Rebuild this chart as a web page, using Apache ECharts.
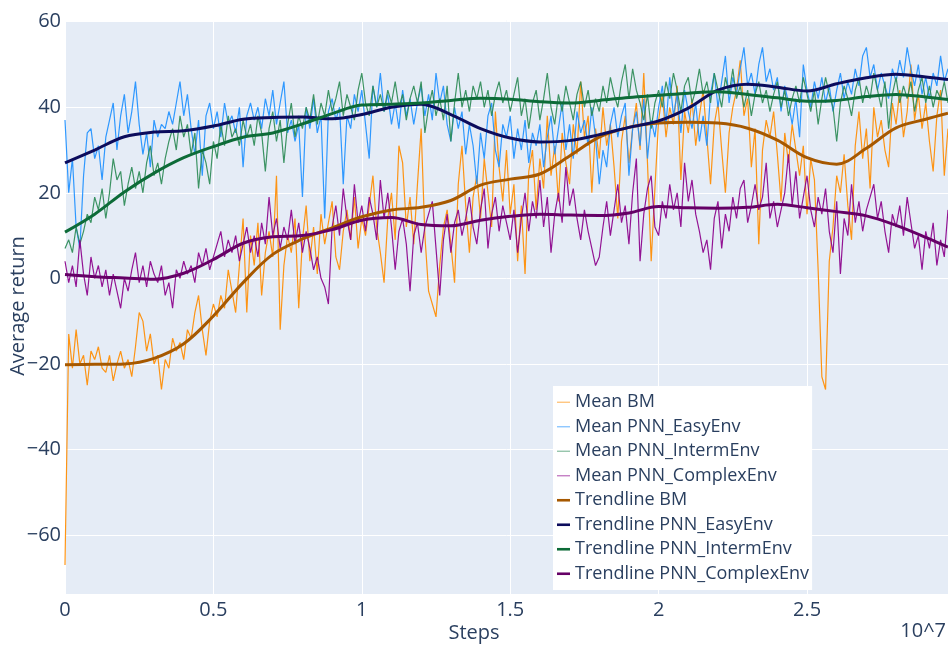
<!DOCTYPE html>
<html>
<head>
<meta charset="utf-8">
<title>Average return vs steps</title>
<script src="https://cdn.jsdelivr.net/npm/echarts@6/dist/echarts.min.js"></script>
<style>
  html, body { margin: 0; padding: 0; background: #ffffff; }
  #chart { width: 948px; height: 645px; }
</style>
</head>
<body>
<div id="chart"></div>
<script>
// Steps between logged evaluations of the mean curves
const STEP = 125000;

// Mean return per evaluation, one value every STEP environment steps
const meanBM = [
  -67, -13, -21, -12, -20, -18, -25, -17, -19, -16, -21,
  -22, -18, -24, -20, -17, -21, -19, -23, -16, -8,
  -10, -17, -13, -20, -18, -26, -19, -21, -14, -17,
  -15, -19, -12, -14, -8, -4, -12, -18, -10, -6,
  -9, -4, -7, 2, -3, -8, 3, 14, -8, 10,
  3, 13, -4, 6, 11, 5, 24, -12, 3, 10,
  6, 14, -7, 9, 17, 4, 12, 1, 15, 8,
  13, 18, 5, 2, 11, 16, 9, 19, 7, 14,
  10, 17, 24, 12, 6, -1, 14, 20, 9, 31,
  27, 12, 19, 8, 22, 35, 10, -3, -6, -9,
  3, 12, 16, 8, -1, 22, 31, 17, 6, 19,
  24, 14, 28, 20, 12, 39, 26, 18, 30, 15,
  22, 4, 17, 1, 25, 30, 16, 28, 21, 38,
  24, 31, 18, 34, 27, 22, 36, 29, 46, 33,
  38, 20, 35, 28, 40, 31, 36, 26, 14, 32,
  38, 27, 35, 41, 30, 48, 27, 4, 21, 37,
  43, 33, 40, 36, 45, 23, 39, 34, 42, 31,
  38, 44, 33, 22, 36, 41, 30, 20, 34, 40,
  44, 51, 38, 42, 26, 35, 8, 30, 37, 33,
  39, 29, 18, 34, 27, 36, 30, 24, 31, 15,
  28, 23, 2, -23, -26, 4, 12, 24, 20, 29,
  17, 9, 31, 39, 28, 35, 21, 40, 33, 37,
  30, 26, 41, 36, 44, 33, 39, 50, 37, 43,
  35, 41, 32, 25, 38, 44, 24, 35
];

const meanEasy = [
  37, 20, 28, 12, 7, 24, 34, 35, 28, 31, 23,
  33, 37, 41, 30, 38, 43, 34, 39, 46, 36,
  29, 34, 26, 37, 33, 36, 35, 39, 36, 41,
  46, 38, 43, 35, 29, 37, 24, 38, 41, 35,
  39, 33, 41, 36, 38, 34, 40, 26, 38, 41,
  37, 40, 35, 42, 38, 44, 36, 41, 46, 34,
  37, 32, 36, 19, 40, 35, 42, 34, 38, 14,
  39, 42, 37, 40, 22, 38, 35, 43, 39, 44,
  36, 28, 45, 40, 48, 39, 43, 36, 41, 35,
  44, 38, 42, 36, 41, 45, 38, 43, 37, 48,
  41, 45, 36, 32, 40, 35, 39, 29, 36, 31,
  22, 34, 28, 38, 41, 30, 26, 36, 33, 38,
  28, 35, 30, 37, 27, 34, 31, 36, 26, 33,
  38, 29, 35, 41, 30, 36, 28, 39, 34, 37,
  31, 40, 33, 22, 30, 26, 36, 40, 33, 38,
  41, 24, 35, 39, 31, 42, 28, 37, 33, 40,
  45, 36, 47, 38, 43, 34, 44, 39, 35, 41,
  32, 38, 31, 43, 48, 40, 46, 52, 41, 47,
  43, 49, 54, 45, 48, 43, 50, 54, 46, 49,
  44, 47, 39, 45, 41, 36, 42, 33, 50, 44,
  40, 46, 42, 47, 41, 45, 39, 44, 48, 42,
  46, 43, 49, 45, 52, 54, 47, 50, 44, 48,
  45, 42, 49, 46, 51, 47, 54, 49, 45, 50,
  43, 47, 42, 48, 45, 52, 46, 49
];

const meanInterm = [
  7, 9, 6, 12, 8, 11, 15, 13, 19, 16, 21,
  14, 20, 28, 23, 25, 17, 22, 26, 21, 25,
  20, 27, 31, 24, 27, 22, 28, 32, 35, 30,
  38, 33, 36, 29, 34, 21, 30, 27, 22, 32,
  28, 36, 31, 38, 33, 35, 31, 37, 33, 36,
  31, 38, 34, 25, 35, 39, 32, 37, 27, 36,
  41, 33, 38, 35, 40, 37, 43, 36, 41, 38,
  44, 39, 42, 46, 38, 43, 40, 37, 44, 48,
  41, 38, 45, 40, 43, 39, 44, 41, 46, 40,
  43, 37, 42, 45, 41, 46, 34, 40, 44, 38,
  42, 37, 45, 32, 41, 48, 40, 44, 39, 45,
  42, 46, 40, 44, 38, 43, 46, 41, 44, 39,
  43, 47, 38, 42, 35, 41, 44, 37, 42, 48,
  40, 36, 43, 39, 45, 41, 37, 43, 46, 40,
  44, 38, 42, 39, 45, 41, 47, 43, 40, 46,
  50, 42, 49, 44, 41, 37, 43, 35, 41, 44,
  40, 46, 42, 48, 44, 39, 45, 47, 41, 44,
  49, 43, 46, 41, 48, 44, 40, 47, 43, 49,
  42, 45, 40, 44, 38, 43, 46, 41, 44, 39,
  43, 46, 40, 44, 38, 42, 45, 41, 47, 43,
  39, 44, 36, 42, 47, 43, 40, 32, 41, 45,
  42, 38, 44, 47, 41, 45, 42, 48, 44, 40,
  46, 35, 43, 47, 41, 45, 42, 46, 39, 44,
  47, 41, 45, 40, 44, 42, 46, 41
];

const meanComplex = [
  4, -1, 3, -2, 9, 1, -4, 5, 0, 3, -2,
  2, -4, 1, -3, -7, 0, -3, 2, 6, -1,
  3, -2, 4, 1, -1, 3, -4, -1, -7, 2,
  0, 4, 1, 3, -1, 6, 3, 7, 2, 5,
  8, 11, 5, 9, 6, 10, 4, 8, 12, 6,
  10, 5, 13, 8, 19, 10, 14, 7, 12, 9,
  16, 8, 13, 6, 11, 7, 2, 5, 0, -2,
  -6, 12, 17, 10, 21, 14, 9, 22, 13, 17,
  11, 19, 15, 9, 23, 14, 20, 12, 2, 11,
  14, 8, -3, 10, 13, 6, 12, 15, 18, 7,
  -4, 9, 15, 6, 13, 16, 10, 14, 19, 12,
  8, 16, 21, 7, 15, 19, 11, 17, 13, 9,
  16, 6, 14, 20, 11, 18, 14, 23, 12, 19,
  6, 15, 20, 13, 26, 17, 21, 14, 9, 16,
  11, 7, 3, 5, 12, 18, 10, 16, 22, 13,
  17, 8, 20, 28, 4, 15, 21, 24, 12, 10,
  18, 14, 22, 16, 20, 12, 27, 18, 23, 15,
  11, 6, 9, 2, 14, 18, 7, 15, 11, 19,
  14, 21, 23, 13, 17, 22, 16, 19, 27, 14,
  18, 12, 16, 20, 29, 17, 25, 14, 19, 24,
  16, 12, 19, 15, 21, 11, 6, 18, 1, 14,
  10, 22, 13, 18, 11, 16, 19, 22, 14, 18,
  11, 6, 15, 12, 17, 10, 19, 13, 7, 10,
  2, 11, 7, 13, 3, 9, 5, 16
];

// Smoothed trend of each run, sampled along the step axis
const trendSteps = [
  0, 1e6, 2e6, 3e6, 4e6, 5e6, 6e6, 7e6, 8e6, 9e6,
  10e6, 11e6, 12e6, 13e6, 14e6, 15e6, 16e6, 17e6, 18e6, 19e6,
  20e6, 21e6, 22e6, 23e6, 24e6, 25e6, 26e6, 27e6, 28e6, 29e6, 29.75e6
];
const trendBM = [
  -20.2, -20.1, -20.0, -18.7, -15.3, -8.8, -1.0, 5.6, 9.2, 11.8,
  14.4, 16.0, 16.6, 18.2, 21.8, 23.2, 24.4, 28.6, 33.0, 35.3,
  36.3, 36.5, 36.3, 35.1, 32.3, 28.2, 26.7, 30.4, 35.2, 37.2, 38.6
];
const trendEasy = [
  27.0, 30.0, 33.1, 34.2, 34.5, 35.6, 37.2, 37.6, 37.7, 37.3,
  38.3, 40.0, 40.7, 38.3, 35.0, 32.8, 31.9, 32.2, 33.6, 35.3,
  36.8, 39.8, 44.0, 45.4, 44.7, 43.8, 45.5, 46.9, 47.7, 47.1, 46.5
];
const trendInterm = [
  10.8, 15.0, 20.2, 24.6, 28.2, 30.8, 33.0, 34.0, 36.1, 38.5,
  40.5, 40.7, 41.0, 41.6, 42.1, 41.9, 41.3, 41.0, 41.6, 42.3,
  42.8, 43.3, 43.6, 43.0, 42.2, 41.4, 41.6, 42.5, 43.0, 42.4, 41.8
];
const trendComplex = [
  0.9, 0.4, 0.1, -0.2, 1.2, 4.4, 8.2, 9.7, 10.0, 11.4,
  13.6, 14.2, 12.6, 12.3, 13.6, 14.5, 15.0, 14.8, 14.7, 15.3,
  16.8, 16.5, 16.4, 16.6, 17.3, 16.5, 15.6, 14.6, 12.4, 9.6, 7.3
];

const yTicks = [-60, -40, -20, 0, 20, 40, 60];

const TEXT = '#2a3f5f';
const FONT = '"Open Sans", "Noto Sans", sans-serif';

// Legend keys: a short thin stroke for the raw means, a thick one for the trends
const THIN_KEY = 'path://M0,0 H16 V1.6 H0 Z';
const THICK_KEY = 'path://M0,0 H16 V3.2 H0 Z';

function pairsEvery(values) {
  return values.map((v, i) => [i * STEP, v]);
}
function pairsAt(xs, values) {
  return values.map((v, i) => [xs[i], v]);
}
function fmtNum(v) {
  const s = String(+v.toFixed(2));
  return s.replace('-', '\u2212');
}

function meanSeries(name, color, values) {
  return {
    name, type: 'line', data: pairsEvery(values),
    showSymbol: false, symbol: 'none', smooth: false,
    lineStyle: { color, width: 1.2, opacity: 0.92 },
    itemStyle: { color, opacity: 0.55 },
    emphasis: { disabled: true }, silent: true
  };
}
function trendSeries(name, color, values) {
  return {
    name, type: 'line', data: pairsAt(trendSteps, values),
    showSymbol: false, symbol: 'none', smooth: 0.35,
    lineStyle: { color, width: 3 },
    itemStyle: { color },
    emphasis: { disabled: true }, silent: true
  };
}

const chart = echarts.init(document.getElementById('chart'), null, { renderer: 'canvas' });

chart.setOption({
  animation: false,
  backgroundColor: '#ffffff',
  textStyle: { fontFamily: FONT },
  grid: {
    left: 65, right: 0, top: 20, bottom: 51,
    show: true, backgroundColor: '#E5ECF6', borderWidth: 0
  },
  xAxis: {
    type: 'value', min: 0, max: 29750000, interval: 5000000,
    axisLine: { show: false }, axisTick: { show: false },
    splitLine: { show: true, lineStyle: { color: '#ffffff', width: 1 } },
    axisLabel: {
      color: TEXT, fontSize: 20, fontFamily: FONT, margin: 6,
      showMaxLabel: false,
      formatter: v => fmtNum(v / 1e7)
    }
  },
  yAxis: {
    type: 'value', min: -73.8, max: 60.4, splitNumber: 7,
    axisLine: { show: false }, axisTick: { show: false },
    splitLine: { show: true, lineStyle: { color: '#ffffff', width: 1 } },
    axisLabel: {
      color: TEXT, fontSize: 20, fontFamily: FONT, margin: 4,
      showMinLabel: false, showMaxLabel: false,
      formatter: v => (yTicks.indexOf(Math.round(v)) >= 0 && Math.abs(v - Math.round(v)) < 1e-6) ? fmtNum(v) : ''
    }
  },
  legend: {
    orient: 'vertical', left: 553, top: 386,
    backgroundColor: '#ffffff', padding: [4, 3, 4, 4],
    itemGap: 0, itemWidth: 13, itemHeight: 14,
    symbolKeepAspect: true,
    textStyle: { color: TEXT, fontSize: 18, fontFamily: FONT, lineHeight: 24.5 },
    selectedMode: false,
    data: [
      { name: 'Mean BM', icon: THIN_KEY },
      { name: 'Mean PNN_EasyEnv', icon: THIN_KEY },
      { name: 'Mean PNN_IntermEnv', icon: THIN_KEY },
      { name: 'Mean PNN_ComplexEnv', icon: THIN_KEY },
      { name: 'Trendline BM', icon: THICK_KEY },
      { name: 'Trendline PNN_EasyEnv', icon: THICK_KEY },
      { name: 'Trendline PNN_IntermEnv', icon: THICK_KEY },
      { name: 'Trendline PNN_ComplexEnv', icon: THICK_KEY }
    ]
  },
  graphic: [
    {
      type: 'text', left: 'center', top: 623,
      style: { text: 'Steps', fill: TEXT, font: '20px ' + FONT }
    },
    {
      type: 'text', right: 2, top: 621,
      style: { text: '10^7', fill: TEXT, font: '20px ' + FONT }
    },
    {
      type: 'text', x: 8, y: 306, rotation: Math.PI / 2,
      style: { text: 'Average return', fill: TEXT, font: '20px ' + FONT, align: 'center', verticalAlign: 'top' }
    }
  ],
  series: [
    meanSeries('Mean BM', '#ff8c00', meanBM),
    meanSeries('Mean PNN_EasyEnv', '#1e90ff', meanEasy),
    meanSeries('Mean PNN_IntermEnv', '#2e8b57', meanInterm),
    meanSeries('Mean PNN_ComplexEnv', '#8b008b', meanComplex),
    trendSeries('Trendline BM', '#a65800', trendBM),
    trendSeries('Trendline PNN_EasyEnv', '#0c0c5c', trendEasy),
    trendSeries('Trendline PNN_IntermEnv', '#0d6b38', trendInterm),
    trendSeries('Trendline PNN_ComplexEnv', '#650066', trendComplex)
  ]
});
</script>
</body>
</html>
